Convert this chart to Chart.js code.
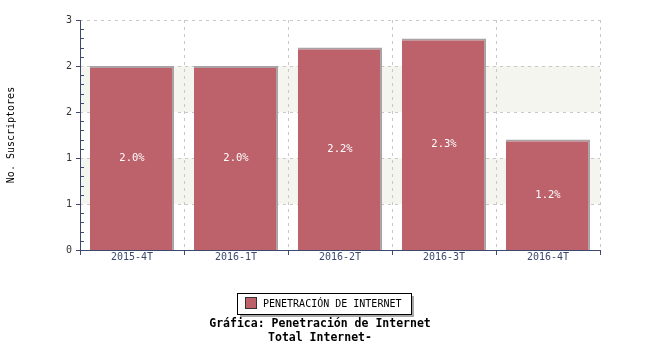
<!DOCTYPE html>
<html><head><meta charset="utf-8">
<script src="https://cdn.jsdelivr.net/npm/chart.js@4/dist/chart.umd.min.js"></script>
<style>html,body{margin:0;padding:0;background:#fff}#wrap{width:650px;height:350px}</style>
</head><body><div id="wrap"><canvas id="c" width="650" height="350"></canvas></div>
<script>
const categories = ["2015-4T", "2016-1T", "2016-2T", "2016-3T", "2016-4T"];
const values = [2.0, 2.0, 2.2, 2.3, 1.2];
const valueLabels = ["2.0%", "2.0%", "2.2%", "2.3%", "1.2%"];
const seriesName = "PENETRACIÓN DE INTERNET";
const yTitle = "No. Suscriptores";
const titleLines = ["Gráfica: Penetración de Internet", "Total Internet-"];

const MONO = '"DejaVu Sans Mono", "Liberation Mono", monospace';
const BAR = '#bd616b';
const AXIS = '#3d4a6e';

const deco = {
  id: 'deco',
  beforeDatasetsDraw(chart) {
    const {ctx, chartArea: a, scales: {y}} = chart;
    ctx.save();
    ctx.fillStyle = '#f5f5f0';
    [[0.5,1.0],[1.5,2.0]].forEach(([lo,hi]) => {
      const y1 = y.getPixelForValue(hi), y2 = y.getPixelForValue(lo);
      ctx.fillRect(a.left + 1, y1, a.right - a.left - 1, y2 - y1);
    });
    ctx.strokeStyle = '#c8c8c8';
    ctx.lineWidth = 1;
    ctx.setLineDash([3,4]);
    for (let v = 0.5; v <= 2.5001; v += 0.5) {
      const py = Math.round(y.getPixelForValue(v)) + 0.5;
      ctx.beginPath(); ctx.moveTo(a.left, py); ctx.lineTo(a.right, py); ctx.stroke();
    }
    const n = categories.length;
    const cw = (a.right - a.left) / n;
    for (let i = 1; i <= n; i++) {
      const px = Math.round(a.left + i * cw) + 0.5;
      ctx.beginPath(); ctx.moveTo(px, a.top); ctx.lineTo(px, a.bottom); ctx.stroke();
    }
    ctx.restore();
  },
  afterDatasetsDraw(chart) {
    const {ctx, chartArea: a, scales: {y}} = chart;
    ctx.save();
    ctx.strokeStyle = AXIS; ctx.lineWidth = 1; ctx.setLineDash([]);
    ctx.beginPath();
    ctx.moveTo(a.left + 0.5, a.top); ctx.lineTo(a.left + 0.5, a.bottom + 0.5);
    ctx.lineTo(a.right, a.bottom + 0.5); ctx.stroke();
    for (let v = 0; v <= 2.5001; v += 0.5) {
      const py = Math.round(y.getPixelForValue(v)) + 0.5;
      ctx.beginPath(); ctx.moveTo(a.left - 4, py); ctx.lineTo(a.left + 1, py); ctx.stroke();
      if (v < 2.5) {
        for (let k = 1; k < 5; k++) {
          const pm = Math.round(y.getPixelForValue(v + k * 0.1)) + 0.5;
          ctx.beginPath(); ctx.moveTo(a.left, pm); ctx.lineTo(a.left + 4, pm); ctx.stroke();
        }
      }
    }
    const n = categories.length;
    const cw = (a.right - a.left) / n;
    for (let i = 0; i <= n; i++) {
      const px = Math.round(a.left + i * cw) + 0.5;
      ctx.beginPath(); ctx.moveTo(px, a.bottom); ctx.lineTo(px, a.bottom + 5); ctx.stroke();
    }
    const meta = chart.getDatasetMeta(0);
    ctx.fillStyle = '#ffffff';
    ctx.font = '10.5px ' + MONO;
    ctx.textAlign = 'center'; ctx.textBaseline = 'middle';
    meta.data.forEach((bar, i) => {
      ctx.fillText(valueLabels[i], bar.x, (bar.y + bar.base) / 2);
    });
    ctx.fillStyle = '#000';
    ctx.font = '10px ' + MONO;
    ctx.translate(11, (a.top + a.bottom) / 2);
    ctx.rotate(-Math.PI / 2);
    ctx.fillText(yTitle, 0, 0);
    ctx.restore();

    ctx.save();
    const lx = 237, ly = 293, lw = 174, lh = 21;
    ctx.fillStyle = '#a8a8a8';
    ctx.fillRect(lx + 3, ly + 3, lw, lh);
    ctx.fillStyle = '#fff';
    ctx.fillRect(lx, ly, lw, lh);
    ctx.strokeStyle = '#000'; ctx.lineWidth = 1;
    ctx.strokeRect(lx + 0.5, ly + 0.5, lw, lh);
    ctx.fillStyle = BAR;
    ctx.fillRect(245, 297, 12, 12);
    ctx.strokeStyle = '#333';
    ctx.strokeRect(245.5, 297.5, 11, 11);
    ctx.fillStyle = '#000';
    ctx.font = '10px ' + MONO;
    ctx.textAlign = 'left'; ctx.textBaseline = 'middle';
    ctx.fillText(seriesName, 263, 304);
    ctx.font = 'bold 11.5px ' + MONO;
    ctx.textAlign = 'center';
    ctx.fillText(titleLines[0], 320, 324);
    ctx.fillText(titleLines[1], 320, 338);
    ctx.restore();
  }
};

new Chart(document.getElementById('c'), {
  type: 'bar',
  data: {
    labels: categories,
    datasets: [{
      label: seriesName,
      data: values,
      backgroundColor: BAR,
      borderColor: '#a9a1a4',
      borderWidth: {top: 2, right: 2, left: 0, bottom: 0},
      borderSkipped: false,
      barPercentage: 0.81,
      categoryPercentage: 1.0
    }]
  },
  options: {
    responsive: false,
    animation: false,
    devicePixelRatio: 1,
    layout: {padding: {left: 0, right: 50, top: 20, bottom: 80}},
    plugins: {legend: {display: false}, tooltip: {enabled: false}, title: {display: false}},
    scales: {
      x: {
        offset: true,
        grid: {display: false, drawTicks: false},
        border: {display: false},
        ticks: {color: AXIS, font: {family: MONO, size: 10}, padding: 1, maxRotation: 0},
        afterFit: s => { s.height = 20; }
      },
      y: {
        min: 0, max: 2.5,
        grid: {display: false, drawTicks: false},
        border: {display: false},
        ticks: {stepSize: 0.5, color: '#333', font: {family: MONO, size: 10}, padding: 8,
          callback: v => String(Math.round(v))},
        afterFit: s => { s.width = 80; }
      }
    }
  },
  plugins: [deco]
});
</script></body></html>
